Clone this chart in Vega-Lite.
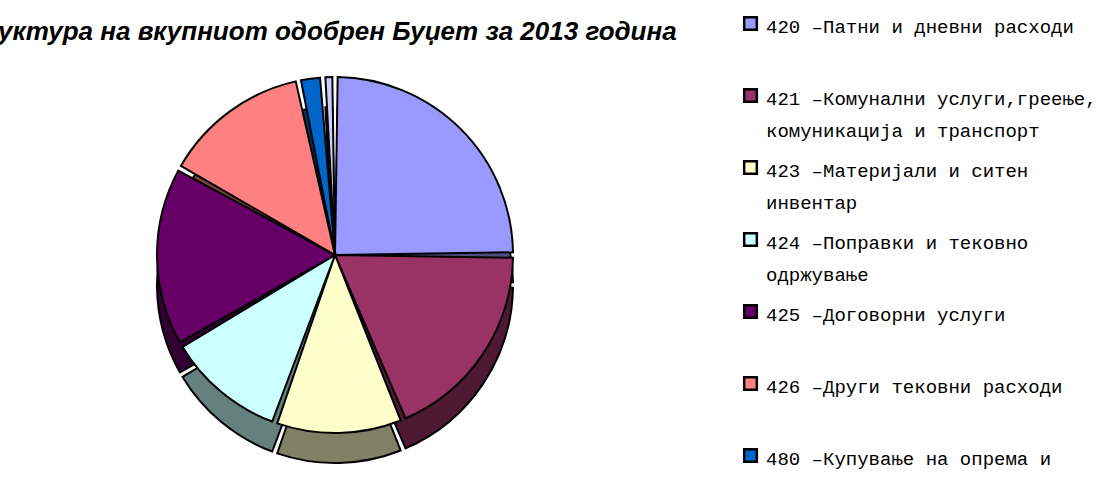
{
  "$schema": "https://vega.github.io/schema/vega-lite/v6.json",
  "width": 670,
  "height": 430,
  "autosize": {"type": "none"},
  "padding": {"left": 0, "top": 40, "right": 439, "bottom": 8},
  "background": "white",
  "title": {
    "text": "Структура на вкупниот одобрен Буџет за 2013 година",
    "anchor": "start",
    "frame": "group",
    "font": "Liberation Sans",
    "fontSize": 26,
    "fontStyle": "italic",
    "fontWeight": "bold",
    "color": "black",
    "dx": -59,
    "offset": -31
  },
  "data": {
    "values": [
      {"category": "420 –Патни и дневни расходи", "value": 25.0},
      {"category": "421 –Комунални услуги,греење,|комуникација и транспорт", "value": 18.75},
      {"category": "423 –Материјали и ситен|инвентар", "value": 11.75},
      {"category": "424 –Поправки и тековно|одржување", "value": 11.1},
      {"category": "425 –Договорни услуги", "value": 16.5},
      {"category": "426 –Други тековни расходи", "value": 13.6},
      {"category": "480 –Купување на опрема и|машини", "value": 2.2},
      {"category": "482 –Други градежни|објекти", "value": 1.1}
    ]
  },
  "layer": [
    {
      "mark": {"type": "arc", "outerRadius": 178, "padAngle": 0.03, "yOffset": 30, "stroke": "black", "strokeWidth": 2},
      "encoding": {
        "theta": {"field": "value", "type": "quantitative", "stack": true},
        "color": {
          "field": "category",
          "type": "nominal",
          "scale": {
            "domain": ["420 –Патни и дневни расходи", "421 –Комунални услуги,греење,|комуникација и транспорт", "423 –Материјали и ситен|инвентар", "424 –Поправки и тековно|одржување", "425 –Договорни услуги", "426 –Други тековни расходи", "480 –Купување на опрема и|машини", "482 –Други градежни|објекти"],
            "range": ["#4D4D80", "#4D1933", "#808066", "#668080", "#330033", "#804040", "#003366", "#666680"]
          },
          "legend": null
        }
      }
    },
    {
      "mark": {"type": "arc", "outerRadius": 178, "padAngle": 0.03, "stroke": "black", "strokeWidth": 2},
      "encoding": {
        "theta": {"field": "value", "type": "quantitative", "stack": true},
        "color": {
          "field": "category",
          "type": "nominal",
          "scale": {
            "domain": ["420 –Патни и дневни расходи", "421 –Комунални услуги,греење,|комуникација и транспорт", "423 –Материјали и ситен|инвентар", "424 –Поправки и тековно|одржување", "425 –Договорни услуги", "426 –Други тековни расходи", "480 –Купување на опрема и|машини", "482 –Други градежни|објекти"],
            "range": ["#9999FF", "#993366", "#FFFFCC", "#CCFFFF", "#660066", "#FF8080", "#0066CC", "#CCCCFF"]
          },
          "legend": {
            "orient": "none",
            "legendX": 741,
            "legendY": -26,
            "title": null,
            "padding": 0,
            "symbolType": "square",
            "symbolSize": 160,
            "symbolStrokeColor": "black",
            "symbolStrokeWidth": 2.5,
            "labelFont": "Liberation Mono",
            "labelFontSize": 19,
            "labelColor": "black",
            "labelExpr": "indexof(datum.label, '|') < 0 ? [datum.label, ' '] : split(datum.label, '|')",
            "labelBaseline": "top",
            "labelOffset": 6,
            "labelLimit": 0,
            "rowPadding": 15,
            "encode": {"labels": {"update": {"lineHeight": {"value": 32}, "dy": {"value": -6}}}}
          }
        }
      }
    }
  ],
  "resolve": {"scale": {"color": "independent"}},
  "config": {"view": {"stroke": null}}
}
